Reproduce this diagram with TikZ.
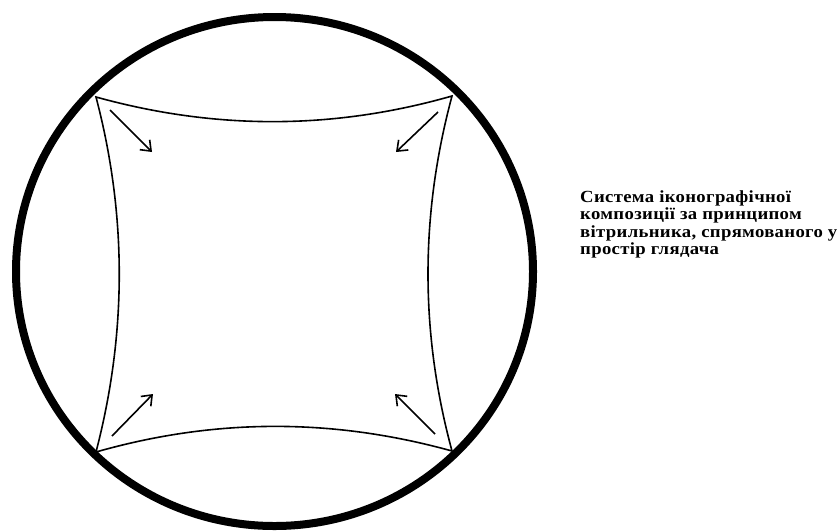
\documentclass[tikz,border=0pt]{standalone}
\usepackage{fontspec}
\setmainfont{Liberation Serif}
\newfontfamily\capfont[FakeStretch=1.1,LetterSpace=2]{Liberation Serif Bold}
\usetikzlibrary{arrows.meta}
\begin{document}
\begin{tikzpicture}[x=1pt,y=-1pt,
  ring/.style={line width=8pt},
  sail/.style={line width=1.6pt},
  push/.style={line width=1.6pt,-{Straight Barb[length=9pt,width=14pt,line width=1.6pt]}},
  caption/.style={anchor=north west,align=left,inner sep=0pt,font=\capfont\fontsize{17}{17.5}\selectfont}]
\useasboundingbox (0,0) rectangle (840,531);
\draw[ring] (274.5,271.5) ellipse [x radius=258.5, y radius=254.5];
\coordinate (tl) at (96,97);
\coordinate (tr) at (452,96);
\coordinate (bl) at (96,452);
\coordinate (br) at (452,451);
\draw[sail] (tl) .. controls (215,130) and (333,130) .. (tr)
  .. controls (420,215) and (420,333) .. (br)
  .. controls (333,418) and (215,418) .. (bl)
  .. controls (127,333) and (127,215) .. (tl) -- cycle;
\coordinate (a1s) at (110,110); \coordinate (a1e) at (152,152);
\coordinate (a2s) at (438,112); \coordinate (a2e) at (396,152);
\coordinate (a3s) at (112,436); \coordinate (a3e) at (153,394);
\coordinate (a4s) at (435,434); \coordinate (a4e) at (395,394);
\draw[push] (a1s) -- (a1e);
\draw[push] (a2s) -- (a2e);
\draw[push] (a3s) -- (a3e);
\draw[push] (a4s) -- (a4e);
\node[caption] (cap) at (580,190) {Система іконографічної\\композиції за принципом\\вітрильника, спрямованого у\\простір глядача};
\end{tikzpicture}
\end{document}
